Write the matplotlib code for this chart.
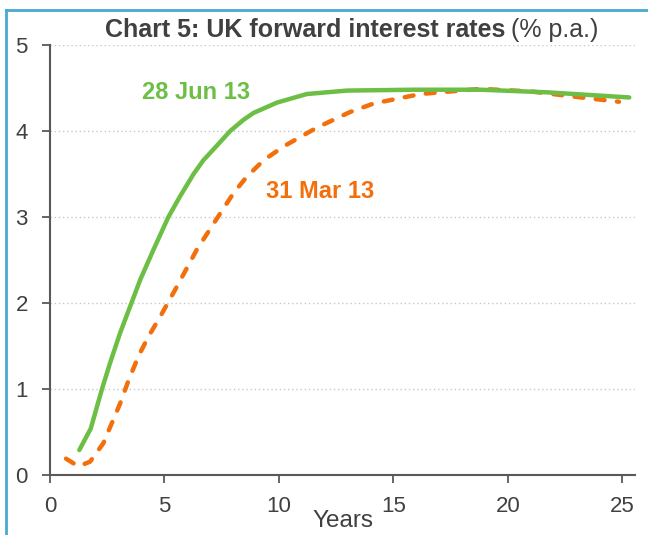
import matplotlib
matplotlib.use('Agg')
import matplotlib.pyplot as plt
from matplotlib.lines import Line2D

plt.rcParams['font.family'] = ['Liberation Sans', 'DejaVu Sans']

# forward curve on 28 Jun 13 (years, % p.a.)
jun_years = [1.28, 1.78, 2.26, 2.62, 3.06, 3.5, 3.94, 4.52, 5.17, 5.68, 6.27, 6.7,
             7.29, 7.87, 8.45, 8.89, 9.91, 11.22, 12.97, 15.9, 18.8, 21.7, 25.3]
jun_rates = [0.29, 0.54, 0.99, 1.30, 1.65, 1.96, 2.27, 2.62, 3.0, 3.24, 3.50, 3.66,
             3.83, 4.0, 4.13, 4.21, 4.33, 4.43, 4.47, 4.48, 4.48, 4.45, 4.39]

# forward curve on 31 Mar 13
mar_years = [0.70, 1.24, 1.75, 2.33, 3.06, 3.43, 3.86, 4.3, 4.81, 5.54, 6.41, 6.92,
             7.43, 8.02, 8.6, 9.33, 10.2, 11.66, 13.1, 14.14, 16.18, 18.8, 21.0,
             23.2, 24.85]
mar_rates = [0.19, 0.10, 0.155, 0.37, 0.83, 1.10, 1.38, 1.61, 1.84, 2.19, 2.62, 2.83,
             3.04, 3.28, 3.47, 3.66, 3.82, 4.04, 4.22, 4.32, 4.43, 4.49, 4.46,
             4.39, 4.34]

x_ticks = [0, 5, 10, 15, 20, 25]
y_ticks = [0, 1, 2, 3, 4, 5]

green = '#6CBE45'
orange = '#F36F0B'
text_col = '#404040'
axis_col = '#595959'

fig = plt.figure(figsize=(6.48, 5.35), dpi=100)
ax = fig.add_axes([50/648, 1 - 475/535, 585/648, 430/535])

ax.plot(jun_years, jun_rates, color=green, lw=3.2, solid_capstyle='round',
        solid_joinstyle='round', zorder=3)
ax.plot(mar_years, mar_rates, color=orange, lw=3.2, dashes=(2.0, 2.8),
        dash_capstyle='round', dash_joinstyle='round', zorder=2)

ax.set_xlim(0, 25.55)
ax.set_ylim(0, 5)
ax.set_xticks(x_ticks)
ax.set_yticks(y_ticks)

for s in ['top', 'right']:
    ax.spines[s].set_visible(False)
for s in ['left', 'bottom']:
    ax.spines[s].set_color(axis_col)
    ax.spines[s].set_linewidth(1.5)
ax.tick_params(axis='both', direction='out', length=6, width=1.3, color=axis_col,
               labelsize=16, labelcolor=text_col)
ax.tick_params(axis='y', pad=10)
ax.tick_params(axis='x', pad=9)

# dotted horizontal gridlines
for yv in y_ticks[1:]:
    ax.axhline(yv, color='#C8C8C8', lw=1.0, ls=(0, (1, 2)), zorder=1)

ax.set_xlabel('Years', fontsize=17.5, color=text_col, labelpad=-5)

ax.text(4.0, 4.45, '28 Jun 13', color=green, fontsize=17, fontweight='bold',
        ha='left', va='center')
ax.text(9.45, 3.3, '31 Mar 13', color=orange, fontsize=17, fontweight='bold',
        ha='left', va='center')

fig.text(505/648, 1 - 37/535, 'Chart 5: UK forward interest rates', fontsize=18,
         fontweight='bold', color=text_col, ha='right', va='baseline')
fig.text(511/648, 1 - 37/535, '(% p.a.)', fontsize=18, color=text_col,
         ha='left', va='baseline')

# blue frame along top and left edge
frame_col = '#46AAD2'
fig.add_artist(Line2D([6/648, 1], [1 - 10/535, 1 - 10/535], color=frame_col, lw=2.0,
                      transform=fig.transFigure))
fig.add_artist(Line2D([6/648, 6/648], [0, 1 - 10/535], color=frame_col, lw=2.0,
                      transform=fig.transFigure))

fig.savefig('out.png', dpi=100)
